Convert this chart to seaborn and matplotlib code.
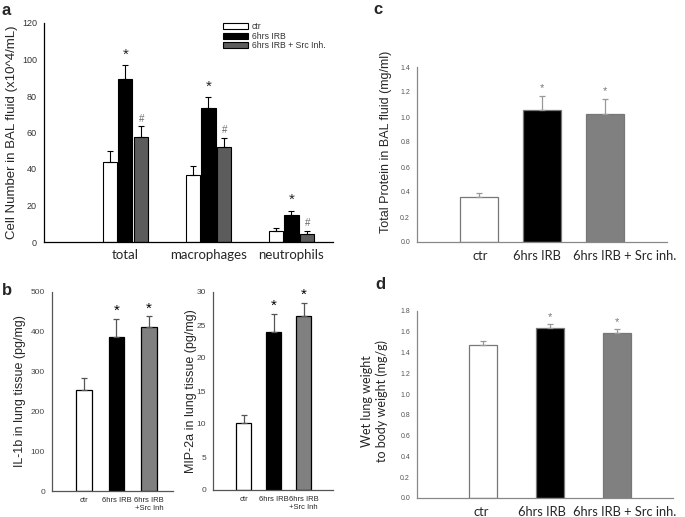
import numpy as np
import pandas as pd
import matplotlib
matplotlib.use('Agg')
import matplotlib.pyplot as plt
import matplotlib.transforms as mtransforms
import seaborn as sns

# ── Data ───────────────────────────────────────────────
groups = ['ctr', '6hrs IRB', '6hrs IRB + Src Inh.']

# panel a: BAL cell counts (x10^4/mL)
cell_types = ['total', 'macrophages', 'neutrophils']
cells_ctr = [43.7, 36.8, 6.2]
cells_irb = [89.3, 73.3, 14.6]
cells_src = [57.8, 52.3, 4.2]
cells_err_ctr = [6.0, 4.9, 1.7]
cells_err_irb = [7.5, 6.1, 2.6]
cells_err_src = [5.6, 4.6, 2.0]
cells_marks = ['', '*', '#']

# panel b: cytokines in lung tissue
b_labels = ['ctr', '6hrs IRB', '6hrs IRB\n+Src Inh']
il1b = [255, 388, 411]
il1b_err = [30, 45, 28]
mip2a = [10.1, 23.9, 26.3]
mip2a_err = [1.3, 2.8, 2.1]

# panel c: total protein in BAL (mg/ml)
cd_labels = ['ctr', '6hrs IRB', '6hrs IRB + Src inh.']
protein = [0.36, 1.06, 1.026]
protein_err = [0.03, 0.105, 0.115]

# panel d: wet lung / body weight (mg/g)
lung_w = [1.47, 1.64, 1.59]
lung_w_err = [0.04, 0.035, 0.035]

sig_marks = ['', '*', '*']

sns.set_style('white')
plt.rcParams['font.family'] = ['Liberation Sans', 'DejaVu Sans']

fig = plt.figure(figsize=(6.85, 5.17), dpi=100)
W, H = 685, 517


def add_ax(l, t, r, b):
    return fig.add_axes([l / W, 1 - b / H, (r - l) / W, (b - t) / H])


def style_ax(ax, spine_col, tick_size, tick_col):
    sns.despine(ax=ax)
    for s in ['left', 'bottom']:
        ax.spines[s].set_color(spine_col)
        ax.spines[s].set_linewidth(0.9)
    ax.tick_params(axis='y', length=3, width=0.8, color=spine_col,
                   labelsize=tick_size, labelcolor=tick_col, pad=2)


def single_bars(ax, labels, vals, errs, colors, edge, width, ecol):
    sns.barplot(x=labels, y=vals, hue=labels, palette=colors, legend=False,
                width=width, edgecolor=edge, linewidth=0.9, ax=ax)
    xs = [b.get_x() + b.get_width() / 2 for c in list(ax.containers) for b in c]
    ax.errorbar(xs, vals, yerr=[np.zeros(len(errs)), errs], fmt='none',
                ecolor=ecol, elinewidth=0.9, capsize=2.5, capthick=0.9)
    return xs


def shift_labels(ax, offsets_px):
    # hand-placed labels in the original are not exactly centred on the ticks
    for t, dx in zip(ax.get_xticklabels(), offsets_px):
        t.set_family(['Lato', 'DejaVu Sans'])
        off = mtransforms.ScaledTranslation(dx / 100, 0, fig.dpi_scale_trans)
        t.set_transform(t.get_transform() + off)


# ── Panel a ────────────────────────────────────────────
ax = add_ax(44, 23, 333, 242)
df_a = pd.DataFrame({
    'cell': cell_types * 3,
    'value': cells_ctr + cells_irb + cells_src,
    'group': np.repeat(groups, 3),
})
sns.barplot(data=df_a, x='cell', y='value', hue='group',
            palette=['white', 'black', '#5c5c5c'], width=0.57, gap=0.1,
            edgecolor='black', linewidth=0.8, ax=ax)
errs_a = [cells_err_ctr, cells_err_irb, cells_err_src]
vals_a = [cells_ctr, cells_irb, cells_src]
bar_conts = list(ax.containers)
for i, cont in enumerate(bar_conts):
    xs = [b.get_x() + b.get_width() / 2 for b in cont]
    ax.errorbar(xs, vals_a[i], yerr=[np.zeros(3), errs_a[i]], fmt='none',
                ecolor='black', elinewidth=0.8, capsize=2.5, capthick=0.8)
    if cells_marks[i]:
        for x, v, e in zip(xs, vals_a[i], errs_a[i]):
            if cells_marks[i] == '*':
                ax.text(x, v + e + 2, '*', ha='center', va='bottom',
                        fontsize=11, color='#222222')
            else:
                ax.text(x, v + e + 1.5, '#', ha='center', va='bottom',
                        fontsize=7, color='#666666')
ax.set_xlim(-0.98, 2.5)
ax.set_ylim(0, 120)
ax.set_yticks(range(0, 121, 20))
style_ax(ax, 'black', 6.5, '#333333')
ax.tick_params(axis='x', length=0, labelsize=9.5, pad=5)
for t in ax.get_xticklabels():
    t.set_family(['Lato', 'DejaVu Sans'])
ax.set_xlabel('')
ax.set_ylabel('Cell Number in BAL fluid (x10^4/mL)', fontsize=9.5, labelpad=3)
leg = ax.legend(loc='upper right', bbox_to_anchor=(0.985, 1.02), frameon=False,
                fontsize=6.2, handlelength=2.9, handleheight=0.7,
                labelspacing=0.08, handletextpad=0.45, borderaxespad=0)
for t in leg.get_texts():
    t.set_color('#333333')

# ── Panel c ────────────────────────────────────────────
ax = add_ax(417, 67, 667, 242)
xs = single_bars(ax, cd_labels, protein, protein_err,
                 ['white', 'black', '#808080'], '#777777', 0.6, '#999999')
for x, v, e, m in zip(xs, protein, protein_err, sig_marks):
    if m:
        ax.text(x, v + e + 0.03, m, ha='center', va='bottom', fontsize=8,
                color='#777777')
ax.set_xlim(-0.98, 2.98)
ax.set_ylim(0, 1.4)
ax.set_yticks(np.arange(0, 1.41, 0.2))
ax.set_yticklabels([f'{v:.1f}' for v in np.arange(0, 1.41, 0.2)])
style_ax(ax, '#888888', 5, '#555555')
ax.tick_params(axis='x', length=3, width=0.8, color='#888888',
               direction='out', labelsize=9.3, pad=3)
shift_labels(ax, [1, -5, 19])
ax.set_ylabel('Total Protein in BAL fluid (mg/ml)', fontsize=9)
ax.yaxis.set_label_coords(-0.1, 0.57)

# ── Panel b (IL-1b) ────────────────────────────────────
ax = add_ax(52, 292, 173, 491)
xs = single_bars(ax, b_labels, il1b, il1b_err,
                 ['white', 'black', '#808080'], 'black', 0.47, '#555555')
for x, v, e, m in zip(xs, il1b, il1b_err, sig_marks):
    if m:
        ax.text(x, v + e + 2, m, ha='center', va='bottom', fontsize=11,
                color='black')
ax.set_xlim(-0.98, 2.74)
ax.set_ylim(0, 500)
ax.set_yticks(range(0, 501, 100))
style_ax(ax, '#555555', 6, '#444444')
ax.tick_params(axis='x', length=0, labelsize=5.5, pad=4)
ax.set_ylabel('IL-1b in lung tissue (pg/mg)', fontsize=9)
ax.yaxis.set_label_coords(-0.215, 0.5)

# ── Panel b (MIP-2a) ───────────────────────────────────
ax = add_ax(213, 292, 333, 490)
xs = single_bars(ax, b_labels, mip2a, mip2a_err,
                 ['white', 'black', '#808080'], 'black', 0.5, '#555555')
for x, v, e, m in zip(xs, mip2a, mip2a_err, sig_marks):
    if m:
        ax.text(x, v + e + 0.1, m, ha='center', va='bottom', fontsize=11,
                color='black')
ax.set_xlim(-1.02, 2.98)
ax.set_ylim(0, 30)
ax.set_yticks(range(0, 31, 5))
style_ax(ax, '#555555', 6, '#444444')
ax.tick_params(axis='x', length=0, labelsize=5.5, pad=4)
ax.set_ylabel('MIP-2a in lung tissue (pg/mg)', fontsize=9)
ax.yaxis.set_label_coords(-0.133, 0.5)

# ── Panel d ────────────────────────────────────────────
ax = add_ax(417, 311, 673, 498)
xs = single_bars(ax, cd_labels, lung_w, lung_w_err,
                 ['white', 'black', '#808080'], '#777777', 0.41, '#999999')
for x, v, e, m in zip(xs, lung_w, lung_w_err, sig_marks):
    if m:
        ax.text(x, v + e + 0.02, m, ha='center', va='bottom', fontsize=8,
                color='#777777')
ax.set_xlim(-0.985, 2.84)
ax.set_ylim(0, 1.8)
ax.set_yticks(np.arange(0, 1.81, 0.2))
ax.set_yticklabels([f'{v:.1f}' for v in np.arange(0, 1.81, 0.2)])
style_ax(ax, '#888888', 5, '#555555')
ax.tick_params(axis='x', length=3, width=0.8, color='#888888',
               direction='out', labelsize=9.3, pad=3)
shift_labels(ax, [-2, -8, 8])
ax.set_ylabel('Wet lung weight\nto body weight (mg/g)', fontsize=9,
              family=['Lato', 'DejaVu Sans'])
ax.yaxis.set_label_coords(-0.113, 0.52)

# ── Panel letters ──────────────────────────────────────
for lab, x, y in [('a', 2, 3), ('b', 2, 283), ('c', 373, 2), ('d', 375, 277)]:
    fig.text(x / W, 1 - y / H, lab, fontsize=12, fontweight='bold',
             va='top', ha='left')

fig.savefig('out.png', dpi=100)
